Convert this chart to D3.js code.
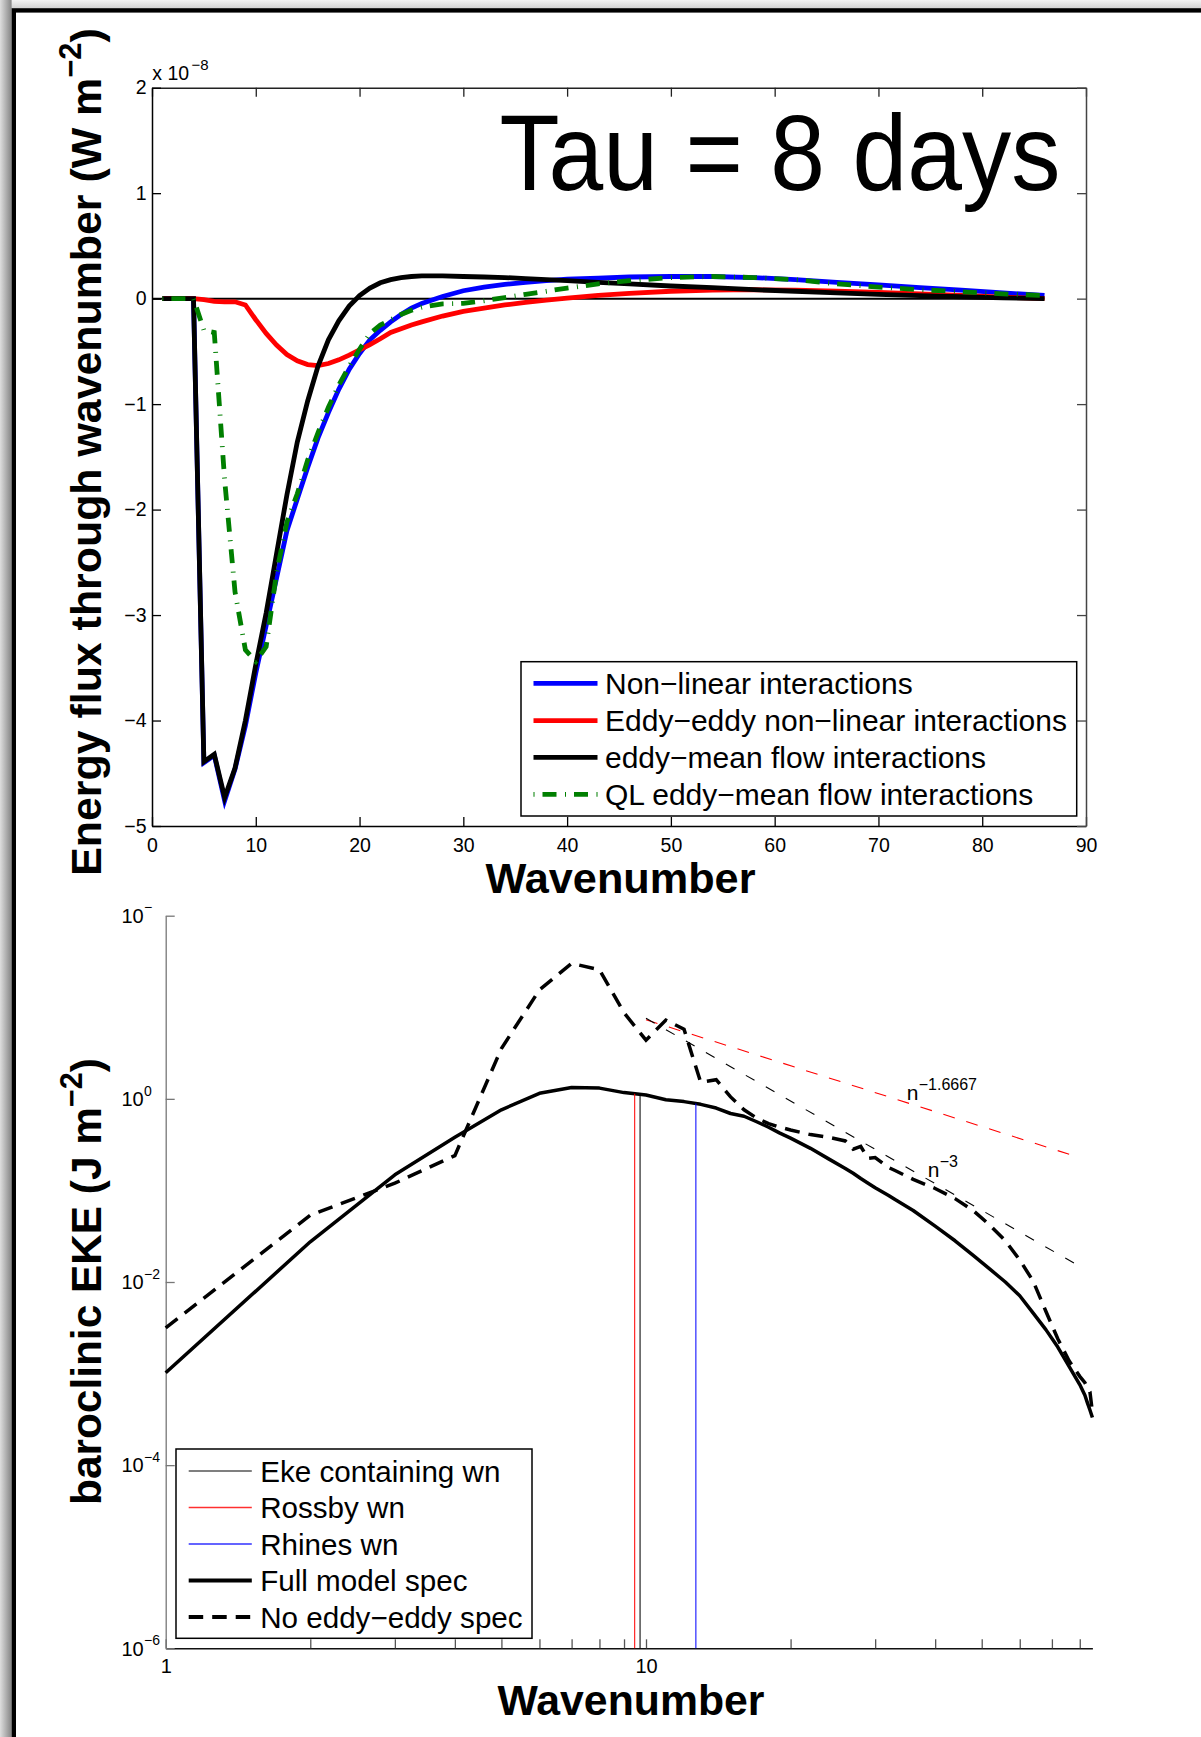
<!DOCTYPE html>
<html>
<head>
<meta charset="utf-8">
<title>Energy flux and baroclinic EKE spectra</title>
<script src="https://cdn.jsdelivr.net/npm/d3@7"></script>
<style>
  html, body { margin: 0; padding: 0; background: #fff; }
  svg { display: block; }
  text { font-family: "Liberation Sans", Arial, Helvetica, sans-serif; fill: #000; }
</style>
</head>
<body>
<svg id="fig" width="1201" height="1737"></svg>
<script>
// ---------- upper panel: energy flux through wavenumber (x 1e-8 W m^-2) ----------
const fluxWavenumber = [1,2,3,4,5,6,7,8,9,10,11,12,13,14,15,16,17,18,19,20,21,22,23,24,25,26,28,30,32,34,36,38,40,43,46,50,54,58,62,66,70,74,78,82,86];
const nonLinearFlux  = [0,0,0,0,-4.40,-4.33,-4.76,-4.46,-4.05,-3.55,-3.10,-2.65,-2.20,-1.90,-1.60,-1.32,-1.08,-0.86,-0.67,-0.52,-0.39,-0.30,-0.22,-0.15,-0.09,-0.045,0.02,0.075,0.11,0.135,0.155,0.17,0.185,0.195,0.205,0.21,0.21,0.20,0.18,0.155,0.13,0.105,0.08,0.055,0.03];
const eddyEddyFlux   = [0,0,0,0,-0.01,-0.025,-0.03,-0.03,-0.06,-0.20,-0.33,-0.44,-0.53,-0.59,-0.625,-0.635,-0.615,-0.58,-0.535,-0.485,-0.435,-0.38,-0.32,-0.285,-0.25,-0.22,-0.165,-0.12,-0.09,-0.06,-0.035,-0.015,0.005,0.03,0.05,0.07,0.08,0.085,0.08,0.07,0.06,0.045,0.03,0.015,0];
const eddyMeanFlux   = [0,0,0,0,-4.39,-4.32,-4.73,-4.45,-4.00,-3.47,-2.98,-2.42,-1.86,-1.36,-0.97,-0.64,-0.39,-0.21,-0.07,0.03,0.10,0.15,0.18,0.20,0.21,0.215,0.215,0.21,0.205,0.20,0.19,0.18,0.17,0.155,0.14,0.12,0.105,0.085,0.07,0.055,0.04,0.028,0.018,0.008,0];
const qlEddyMeanFlux = [0,0,0,0,-0.30,-0.32,-1.72,-2.78,-3.33,-3.44,-3.30,-2.60,-2.12,-1.85,-1.53,-1.27,-1.03,-0.82,-0.64,-0.48,-0.33,-0.25,-0.20,-0.15,-0.11,-0.08,-0.05,-0.045,-0.02,0.01,0.04,0.07,0.10,0.14,0.17,0.20,0.21,0.20,0.18,0.14,0.11,0.085,0.065,0.045,0.03];
const fluxSeriesNames = ["Non\u2212linear interactions", "Eddy\u2212eddy non\u2212linear interactions", "eddy\u2212mean flow interactions", "QL eddy\u2212mean flow interactions"];
const fluxXTicks = [0,10,20,30,40,50,60,70,80,90];
const fluxYTicks = [-5,-4,-3,-2,-1,0,1,2];
const fluxTitle = "Tau = 8 days";

// ---------- lower panel: baroclinic EKE spectra (J m^-2) ----------
const specWavenumber = [1,2,3,4,5,6,7,8,9,10,11,12,13,14,15,16,17,18,19,20,22,24,26,27,28,29,30,32,33,36,40,44,48,52,56,60,64,68,72,76,80,82,83,84,85];
const fullModelSpec  = [1.02e-3,2.75e-2,0.148,0.380,0.759,1.15,1.33,1.31,1.17,1.10,0.977,0.933,0.871,0.794,0.692,0.646,0.562,0.490,0.422,0.372,0.288,0.221,0.174,0.154,0.135,0.120,0.107,0.088,0.0794,0.0603,0.0407,0.0282,0.0195,0.0138,0.0100,0.00708,0.00457,0.00302,0.00195,0.00120,0.000759,0.000580,0.000479,0.000400,0.000331];
const noEddyEddySpec = [3.16e-3,0.0537,0.120,0.240,3.55,15.5,30.2,25.7,8.71,4.37,7.24,5.75,1.51,1.62,1.05,0.759,0.617,0.537,0.490,0.457,0.407,0.380,0.347,0.282,0.302,0.224,0.229,0.178,0.165,0.132,0.105,0.0813,0.0603,0.0417,0.0282,0.0174,0.0102,0.00479,0.00240,0.00138,0.000933,0.000794,0.000700,0.000631,0.000380];
const ekeContainingWn = 9.72;
const rossbyWn = 9.47;
const rhinesWn = 12.7;
const slopeExponents   = [-1.6667, -3];
const slopeCoefficients = [339, 7586];
const slopeRanges      = [[10, 78.5], [10, 80.3]];
const slopeLabelWn     = [34.9, 38.6];
const slopeLabels      = ["\u22121.6667", "\u22123"];
const specXTicks = [1,2,3,4,5,6,7,8,9,10,20,30,40,50,60,70,80];
const specXTickLabels = ["1","","","","","","","","","10","","","","","","",""];
const specYTicks = [1e-6,1e-4,1e-2,1,1e2];
const specYTickExponents = ["\u22126","\u22124","\u22122","0","\u2212"];
const specLegendNames = ["Eke containing wn", "Rossby wn", "Rhines wn", "Full model spec", "No eddy\u2212eddy spec"];

// ---------- drawing ----------
const W = 1201, H = 1737;
const svg = d3.select("#fig");
const FONT = '"Liberation Sans", Arial, Helvetica, sans-serif';

// page background, slide frame and its shadow
const defs = svg.append("defs");
const shadeL = defs.append("linearGradient").attr("id", "shadeL").attr("x1", 0).attr("x2", 1).attr("y1", 0).attr("y2", 0);
shadeL.append("stop").attr("offset", 0).attr("stop-color", "#dedede");
shadeL.append("stop").attr("offset", 1).attr("stop-color", "#858585");
const shadeT = defs.append("linearGradient").attr("id", "shadeT").attr("x1", 0).attr("x2", 0).attr("y1", 0).attr("y2", 1);
shadeT.append("stop").attr("offset", 0).attr("stop-color", "#f3f3f3");
shadeT.append("stop").attr("offset", 1).attr("stop-color", "#d2d2d2");
svg.append("rect").attr("width", W).attr("height", H).attr("fill", "#fff");
svg.append("rect").attr("x", 0).attr("y", 0).attr("width", W).attr("height", 8.5).attr("fill", "url(#shadeT)");
svg.append("rect").attr("x", 0).attr("y", 0).attr("width", 11.6).attr("height", H).attr("fill", "url(#shadeL)");
svg.append("rect").attr("x", 13.8).attr("y", 10.4).attr("width", W + 40).attr("height", H + 40)
  .attr("fill", "none").attr("stroke", "#000").attr("stroke-width", 4.4);

// scale a text element's font (and its tspans) so that it spans a given length
function fitText(t, target) {
  const L = t.node().getComputedTextLength();
  const k = target / L;
  t.attr("font-size", +t.attr("font-size") * k);
  t.selectAll("tspan").each(function () {
    const s = d3.select(this);
    if (s.attr("font-size")) s.attr("font-size", +s.attr("font-size") * k);
    if (s.attr("dy")) s.attr("dy", +s.attr("dy") * k);
  });
}

function styleAxis(g, color, fontSize) {
  g.attr("font-family", FONT).attr("font-size", fontSize);
  g.select(".domain").attr("stroke", color).attr("stroke-width", 1.5);
  g.selectAll(".tick line").attr("stroke", color).attr("stroke-width", 1.3);
  g.selectAll(".tick text").attr("fill", "#000");
}

// rotated y-axis title with a superscript unit exponent
function yTitle(cx, cy, main, sup, tail, target) {
  const t = svg.append("text")
    .attr("transform", `translate(${cx},${cy}) rotate(-90)`)
    .attr("text-anchor", "middle").attr("font-weight", "bold").attr("font-size", 43);
  t.append("tspan").text(main);
  t.append("tspan").attr("font-size", 31).attr("dy", -20).text(sup);
  t.append("tspan").attr("font-size", 43).attr("dy", 20).text(tail);
  fitText(t, target);
}

/* ===================== upper panel ===================== */
const fx = d3.scaleLinear().domain([0, 90]).range([152, 1086]);
const fy = d3.scaleLinear().domain([-5, 2]).range([826, 87.7]);

const up = svg.append("g");
up.append("rect").attr("x", fx(0)).attr("y", fy(2)).attr("width", fx(90) - fx(0)).attr("height", fy(-5) - fy(2)).attr("fill", "#fff");

const axB = up.append("g").attr("transform", `translate(0,${fy(-5)})`)
  .call(d3.axisBottom(fx).tickValues(fluxXTicks).tickSizeInner(-9).tickSizeOuter(0).tickPadding(12));
styleAxis(axB, "#000", 19.5);
const axT = up.append("g").attr("transform", `translate(0,${fy(2)})`)
  .call(d3.axisTop(fx).tickValues(fluxXTicks).tickSizeInner(-9).tickSizeOuter(0).tickFormat(""));
styleAxis(axT, "#222", 19.5);
const axL = up.append("g").attr("transform", `translate(${fx(0)},0)`)
  .call(d3.axisLeft(fy).tickValues(fluxYTicks).tickSizeInner(-9).tickSizeOuter(0).tickPadding(5.5).tickFormat(d3.format("d")));
styleAxis(axL, "#000", 19.5);
const axR = up.append("g").attr("transform", `translate(${fx(90)},0)`)
  .call(d3.axisRight(fy).tickValues(fluxYTicks).tickSizeInner(-9).tickSizeOuter(0).tickFormat(""));
styleAxis(axR, "#444", 19.5);

// zero reference
up.append("line").attr("x1", fx(0)).attr("x2", fx(86)).attr("y1", fy(0)).attr("y2", fy(0))
  .attr("stroke", "#000").attr("stroke-width", 2);

const fluxStyles = [
  { color: "#0000ff", dash: null },
  { color: "#ff0000", dash: null },
  { color: "#000000", dash: null },
  { color: "#007f00", dash: "1,8,14,8.5" }
];
const fluxSeries = [nonLinearFlux, eddyEddyFlux, eddyMeanFlux, qlEddyMeanFlux];
const fluxLine = d3.line().x((d, i) => fx(fluxWavenumber[i])).y(d => fy(d));
fluxSeries.forEach((s, k) => {
  up.append("path").attr("d", fluxLine(s)).attr("fill", "none")
    .attr("stroke", fluxStyles[k].color).attr("stroke-width", 4.8)
    .attr("stroke-linejoin", "miter").attr("stroke-miterlimit", 4)
    .attr("stroke-dasharray", fluxStyles[k].dash);
});

// exponent multiplier above the axis
up.append("text").attr("x", 152.3).attr("y", 80).attr("font-size", 19.5).text("x 10");
up.append("text").attr("x", 191.5).attr("y", 69.5).attr("font-size", 15).text("\u22128");

// panel title
const title = up.append("text").attr("x", 499.4).attr("y", 190)
  .attr("font-family", "Lato, 'Open Sans', sans-serif").attr("font-size", 108).text(fluxTitle);
title.attr("textLength", 561).attr("lengthAdjust", "spacingAndGlyphs");

// legend
const lgU = up.append("g");
lgU.append("rect").attr("x", 521).attr("y", 661.7).attr("width", 555.7).attr("height", 154.3)
  .attr("fill", "#fff").attr("stroke", "#000").attr("stroke-width", 1.5);
const rowsU = [683.3, 720.7, 757.3, 794.3];
fluxSeriesNames.forEach((name, k) => {
  lgU.append("line").attr("x1", 533.5).attr("x2", 597.5).attr("y1", rowsU[k]).attr("y2", rowsU[k])
    .attr("stroke", fluxStyles[k].color).attr("stroke-width", 4.8).attr("stroke-dasharray", fluxStyles[k].dash);
  lgU.append("text").attr("x", 605).attr("y", rowsU[k] + 10.6).attr("font-size", 30).text(name);
});

// axis titles
const xtU = up.append("text").attr("x", 620.5).attr("y", 893).attr("text-anchor", "middle")
  .attr("font-weight", "bold").attr("font-size", 42).text("Wavenumber");
fitText(xtU, 270);
yTitle(101.4, 452, "Energy flux through wavenumber (W m", "\u22122", ")", 848);

/* ===================== lower panel ===================== */
const sx = d3.scaleLog().domain([1, 85]).range([165.7, 1092.4]);
const sy = d3.scaleLog().domain([1e-6, 1e2]).range([1648.3, 915.7]);
const lo = svg.append("g");

const axLB = lo.append("g").attr("transform", `translate(0,${sy(1e-6)})`)
  .call(d3.axisBottom(sx).tickValues(specXTicks).tickSizeInner(-9).tickSizeOuter(0).tickPadding(10.5)
    .tickFormat((d, i) => specXTickLabels[i]));
styleAxis(axLB, "#111", 20);
axLB.selectAll(".tick line").attr("stroke", "#555");
const axLL = lo.append("g").attr("transform", `translate(${sx(1)},0)`)
  .call(d3.axisLeft(sy).tickValues(specYTicks).tickSizeInner(-9).tickSizeOuter(0).tickFormat(""));
styleAxis(axLL, "#777", 20);
axLL.select(".domain").attr("stroke-width", 1.3);

// y tick labels written as powers of ten
specYTicks.forEach((v, i) => {
  lo.append("text").attr("x", 121.5).attr("y", sy(v) + 7.2).attr("font-size", 20).text("10");
  lo.append("text").attr("x", 144).attr("y", sy(v) - 3.3).attr("font-size", 14).text(specYTickExponents[i]);
});

const specLine = d3.line().x((d, i) => sx(specWavenumber[i])).y(d => sy(d));

// power-law reference slopes
const slopeColors = ["#ff0000", "#000000"];
const slopeDash = ["12,12", "10,13"];
slopeExponents.forEach((p, k) => {
  const [a, b] = slopeRanges[k];
  const c = slopeCoefficients[k];
  lo.append("line").attr("x1", sx(a)).attr("y1", sy(c * Math.pow(a, p)))
    .attr("x2", sx(b)).attr("y2", sy(c * Math.pow(b, p)))
    .attr("stroke", slopeColors[k]).attr("stroke-width", 1.1).attr("stroke-dasharray", slopeDash[k]);
  const n = slopeLabelWn[k];
  const lx = sx(n), ly = sy(c * Math.pow(n, p)) - 2.5;
  lo.append("text").attr("x", lx).attr("y", ly).attr("font-size", 21).attr("fill", "#222").text("n");
  lo.append("text").attr("x", lx + 12).attr("y", ly - 10).attr("font-size", 16).attr("fill", "#222").text(slopeLabels[k]);
});

// spectra
lo.append("path").attr("d", specLine(fullModelSpec)).attr("fill", "none")
  .attr("stroke", "#000").attr("stroke-width", 3.5).attr("stroke-linejoin", "round");
lo.append("path").attr("d", specLine(noEddyEddySpec)).attr("fill", "none")
  .attr("stroke", "#000").attr("stroke-width", 3.5).attr("stroke-dasharray", "15,9");

// characteristic wavenumbers, drawn up to the full-model spectrum
function specAt(wn) {
  const i = Math.max(0, d3.bisectRight(specWavenumber, wn) - 1);
  const x0 = Math.log(specWavenumber[i]), x1 = Math.log(specWavenumber[i + 1]);
  const y0 = Math.log(fullModelSpec[i]), y1 = Math.log(fullModelSpec[i + 1]);
  const t = (Math.log(wn) - x0) / (x1 - x0);
  return Math.exp(y0 + t * (y1 - y0));
}
const markers = [
  { wn: rossbyWn, color: "#ff0000" },
  { wn: ekeContainingWn, color: "#000000" },
  { wn: rhinesWn, color: "#0000ff" }
];
markers.forEach(m => {
  lo.append("line").attr("x1", sx(m.wn)).attr("x2", sx(m.wn))
    .attr("y1", sy(1e-6)).attr("y2", sy(specAt(m.wn)))
    .attr("stroke", m.color).attr("stroke-width", 1.2).attr("opacity", 0.85);
});

// legend
const lgL = lo.append("g");
lgL.append("rect").attr("x", 176).attr("y", 1449).attr("width", 356).attr("height", 189.3)
  .attr("fill", "#fff").attr("stroke", "#000").attr("stroke-width", 1.5);
const rowsL = [1471, 1507.5, 1544, 1580.5, 1617];
const specLegendStyles = [
  { color: "#000", w: 1.1, dash: null },
  { color: "#ff3030", w: 1.3, dash: null },
  { color: "#3030ff", w: 1.3, dash: null },
  { color: "#000", w: 3.8, dash: null },
  { color: "#000", w: 3.8, dash: "14.5,9" }
];
specLegendNames.forEach((name, k) => {
  const st = specLegendStyles[k];
  lgL.append("line").attr("x1", 188.7).attr("x2", 251.8).attr("y1", rowsL[k]).attr("y2", rowsL[k])
    .attr("stroke", st.color).attr("stroke-width", st.w).attr("stroke-dasharray", st.dash);
  lgL.append("text").attr("x", 260.2).attr("y", rowsL[k] + 10.6).attr("font-size", 29.6).text(name);
});

// axis titles
const xtL = lo.append("text").attr("x", 631).attr("y", 1715).attr("text-anchor", "middle")
  .attr("font-weight", "bold").attr("font-size", 42).text("Wavenumber");
fitText(xtL, 267);
yTitle(101.4, 1281.5, "baroclinic EKE (J m", "\u22122", ")", 447);
</script>
</body>
</html>
